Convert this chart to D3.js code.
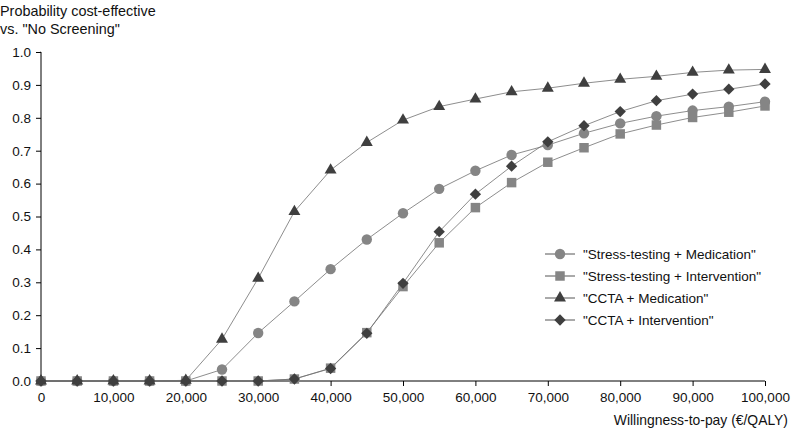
<!DOCTYPE html>
<html><head><meta charset="utf-8">
<script src="https://cdn.jsdelivr.net/npm/d3@7"></script>
<style>body{margin:0;background:#fff}svg{display:block;font-family:"Liberation Sans",Arial,sans-serif}</style>
</head><body><svg id="c" width="800" height="440"></svg>
<script>
const wtp = [0,5000,10000,15000,20000,25000,30000,35000,40000,45000,50000,55000,60000,65000,70000,75000,80000,85000,90000,95000,100000];
const stressMed = [0,0,0,0,0,0.035,0.146,0.242,0.34,0.43,0.51,0.584,0.639,0.687,0.717,0.753,0.783,0.805,0.822,0.834,0.849];
const stressInt = [0,0,0,0,0,0,0,0.006,0.039,0.147,0.287,0.42,0.527,0.603,0.665,0.709,0.751,0.778,0.801,0.817,0.836];
const cctaMed = [0,0,0,0,0.002,0.127,0.312,0.515,0.641,0.725,0.793,0.834,0.857,0.879,0.89,0.905,0.917,0.926,0.938,0.945,0.947];
const cctaInt = [0,0,0,0,0,0,0,0.006,0.038,0.145,0.297,0.454,0.568,0.653,0.727,0.776,0.819,0.852,0.872,0.887,0.903];
const seriesNames = ['"Stress-testing + Medication"','"Stress-testing + Intervention"','"CCTA + Medication"','"CCTA + Intervention"'];
const xTicks = [0,10000,20000,30000,40000,50000,60000,70000,80000,90000,100000];
const yTicks = [0,0.1,0.2,0.3,0.4,0.5,0.6,0.7,0.8,0.9,1.0];

const wideDiamond = { draw(ctx, size) { const r = Math.sqrt(size/2); ctx.moveTo(0,-r); ctx.lineTo(r,0); ctx.lineTo(0,r); ctx.lineTo(-r,0); ctx.closePath(); } };

const series = [
  {name: seriesNames[0], values: stressMed, shape: d3.symbolCircle, color: "#858585", size: 85},
  {name: seriesNames[1], values: stressInt, shape: d3.symbolSquare, color: "#858585", size: 90},
  {name: seriesNames[2], values: cctaMed, shape: d3.symbolTriangle, color: "#3f3f3f", size: 62},
  {name: seriesNames[3], values: cctaInt, shape: wideDiamond, color: "#3f3f3f", size: 64}
];

const svg = d3.select("#c");
const x = d3.scaleLinear().domain([0,100000]).range([41,765]);
const y = d3.scaleLinear().domain([0,1]).range([381,52]);
const FS = 13.5;

const yAxis = d3.axisLeft(y).tickValues(yTicks).tickFormat(d3.format(".1f")).tickSize(5).tickPadding(5);
const gy = svg.append("g").attr("transform","translate(41,0)").call(yAxis);
gy.select(".domain").attr("d", `M-0.5,${y(1)}H0V${y(0)}`).attr("stroke","#000");
gy.selectAll("text").attr("font-size",FS).attr("fill","#111").attr("font-family","Liberation Sans, Arial, sans-serif");

const xAxis = d3.axisBottom(x).tickValues(xTicks).tickFormat(d3.format(",")).tickSize(5).tickPadding(6);
const gx = svg.append("g").attr("transform","translate(0,381)").call(xAxis);
gx.select(".domain").attr("d", `M${x(0)},0H${x(100000)}`).attr("stroke","#000");
gx.selectAll("text").attr("font-size",FS).attr("fill","#111").attr("font-family","Liberation Sans, Arial, sans-serif");

svg.append("text").attr("x",0).attr("y",16).attr("font-size",14.4).attr("fill","#111").text("Probability cost-effective");
svg.append("text").attr("x",0).attr("y",34).attr("font-size",14.4).attr("fill","#111").text('vs. "No Screening"');
svg.append("text").attr("x",788).attr("y",425).attr("text-anchor","end").attr("font-size",13.9).attr("fill","#111").text("Willingness-to-pay (€/QALY)");

const line = d3.line().x((d,i)=>x(wtp[i])).y(d=>y(d));
series.forEach(s=>{
  svg.append("path").attr("d", line(s.values)).attr("fill","none").attr("stroke","#707070").attr("stroke-width",0.8);
});
series.forEach(s=>{
  svg.append("g").selectAll("path").data(s.values).join("path")
    .attr("transform",(d,i)=>`translate(${x(wtp[i])},${y(d)})`)
    .attr("d", d3.symbol().type(s.shape).size(s.size)())
    .attr("fill", s.color);
});

const lg = svg.append("g");
series.forEach((s,i)=>{
  const yy = 254 + i*22;
  lg.append("line").attr("x1",545).attr("x2",575).attr("y1",yy).attr("y2",yy).attr("stroke","#555").attr("stroke-width",1);
  lg.append("path").attr("transform",`translate(560,${yy})`).attr("d", d3.symbol().type(s.shape).size(s.size)()).attr("fill",s.color);
  lg.append("text").attr("x",583).attr("y",yy+5).attr("font-size",FS).attr("fill","#111").text(s.name);
});
</script></body></html>
